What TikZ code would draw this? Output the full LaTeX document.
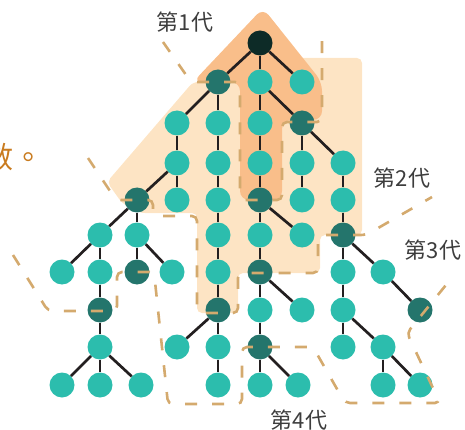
\documentclass[tikz,border=0pt]{standalone}
\usepackage{fontspec}
\newfontfamily\cjk{Noto Sans CJK TC}
\definecolor{peach}{HTML}{FDE4C4}
\definecolor{orangebg}{HTML}{F9BE8A}
\definecolor{dashc}{HTML}{D4AA6E}
\definecolor{tealn}{HTML}{2CBDAD}
\definecolor{tealdk}{HTML}{24756C}
\definecolor{rootc}{HTML}{0D2B27}
\definecolor{edgec}{HTML}{231F20}
\definecolor{txtc}{HTML}{3D3D3D}
\definecolor{lefttxt}{HTML}{C97B1F}
\begin{document}
\begin{tikzpicture}[x=1pt,y=-1pt,
  nd/.style={circle,fill=tealn,minimum size=25pt,inner sep=0pt},
  dk/.style={nd,fill=tealdk},
  rt/.style={nd,fill=rootc},
  edge/.style={draw=edgec,line width=2.7pt},
  dsh/.style={draw=dashc,line width=2.6pt,dash pattern=on 12pt off 15pt,rounded corners=5pt},
  lbl/.style={text=txtc,font=\cjk\fontsize{22}{22}\selectfont,inner sep=0pt}]
\useasboundingbox (0,0) rectangle (465,430);
% backgrounds
\fill[peach,rounded corners=5pt] (107,182) -- (193,82) -- (250,82) -- (250,58) -- (362,58) -- (362,235) -- (320,235) -- (320,273) -- (238,273) -- (238,313) -- (197,313) -- (197,213) -- (140,213) -- (122,203) -- cycle;
\fill[orangebg,rounded corners=9pt] (193,82) -- (263,8) -- (322,82) -- (322,120) -- (282,120) -- (282,200) -- (240,200) -- (240,82) -- cycle;
% nodes
\node[rt] (R) at (260,43) {};
\node[dk] (a1) at (218,82) {};
\node[nd] (a2) at (260,82) {};
\node[nd] (a3) at (302,82) {};
\node[nd] (b1) at (177,123) {};
\node[nd] (b2) at (218,123) {};
\node[nd] (b3) at (260,123) {};
\node[dk] (b4) at (302,123) {};
\node[nd] (c1) at (177,163) {};
\node[nd] (c2) at (218,163) {};
\node[nd] (c3) at (260,163) {};
\node[nd] (c4) at (302,163) {};
\node[nd] (c5) at (343,163) {};
\node[dk] (d1) at (137,200) {};
\node[nd] (d2) at (177,200) {};
\node[nd] (d3) at (218,200) {};
\node[dk] (d4) at (260,200) {};
\node[nd] (d5) at (302,200) {};
\node[nd] (d6) at (343,200) {};
\node[nd] (e1) at (100,235) {};
\node[nd] (e2) at (137,235) {};
\node[nd] (e3) at (218,235) {};
\node[nd] (e4) at (260,235) {};
\node[nd] (e5) at (302,235) {};
\node[dk] (e6) at (343,235) {};
\node[nd] (f1) at (62,272) {};
\node[nd] (f2) at (100,272) {};
\node[dk] (f3) at (137,272) {};
\node[nd] (f4) at (172,272) {};
\node[nd] (f5) at (218,272) {};
\node[dk] (f6) at (260,272) {};
\node[nd] (f7) at (343,272) {};
\node[nd] (f8) at (383,272) {};
\node[dk] (g1) at (100,310) {};
\node[dk] (g2) at (218,310) {};
\node[nd] (g3) at (260,310) {};
\node[nd] (g4) at (302,310) {};
\node[nd] (g5) at (343,310) {};
\node[dk] (g6) at (420,310) {};
\node[nd] (h1) at (100,347) {};
\node[nd] (h2) at (177,347) {};
\node[nd] (h3) at (218,347) {};
\node[dk] (h4) at (260,347) {};
\node[nd] (h5) at (343,347) {};
\node[nd] (h6) at (383,347) {};
\node[nd] (i1) at (62,385) {};
\node[nd] (i2) at (100,385) {};
\node[nd] (i3) at (141,385) {};
\node[nd] (i4) at (218,385) {};
\node[nd] (i5) at (260,385) {};
\node[nd] (i6) at (298,385) {};
\node[nd] (i7) at (383,385) {};
\node[nd] (i8) at (420,385) {};
% edges
\draw[edge] (R) -- (a1); \draw[edge] (R) -- (a2); \draw[edge] (R) -- (a3);
\draw[edge] (a1) -- (b1); \draw[edge] (a1) -- (b2);
\draw[edge] (a2) -- (b3); \draw[edge] (a2) -- (b4);
\draw[edge] (b1) -- (c1); \draw[edge] (b2) -- (c2); \draw[edge] (b3) -- (c3);
\draw[edge] (b4) -- (c4); \draw[edge] (b4) -- (c5);
\draw[edge] (c1) -- (d1); \draw[edge] (c1) -- (d2); \draw[edge] (c2) -- (d3);
\draw[edge] (c3) -- (d4); \draw[edge] (c4) -- (d5); \draw[edge] (c5) -- (d6);
\draw[edge] (d1) -- (e1); \draw[edge] (d1) -- (e2); \draw[edge] (d3) -- (e3);
\draw[edge] (d4) -- (e4); \draw[edge] (d4) -- (e5); \draw[edge] (d6) -- (e6);
\draw[edge] (e1) -- (f1); \draw[edge] (e1) -- (f2); \draw[edge] (e2) -- (f3);
\draw[edge] (e2) -- (f4); \draw[edge] (e3) -- (f5); \draw[edge] (e4) -- (f6);
\draw[edge] (e6) -- (f7); \draw[edge] (e6) -- (f8);
\draw[edge] (f2) -- (g1); \draw[edge] (f5) -- (g2); \draw[edge] (f6) -- (g3);
\draw[edge] (f6) -- (g4); \draw[edge] (f7) -- (g5); \draw[edge] (f8) -- (g6);
\draw[edge] (g1) -- (h1); \draw[edge] (g2) -- (h2); \draw[edge] (g2) -- (h3);
\draw[edge] (g3) -- (h4); \draw[edge] (g5) -- (h5); \draw[edge] (g5) -- (h6);
\draw[edge] (h1) -- (i1); \draw[edge] (h1) -- (i2); \draw[edge] (h1) -- (i3);
\draw[edge] (h3) -- (i4); \draw[edge] (h4) -- (i5); \draw[edge] (h4) -- (i6);
\draw[edge] (h6) -- (i7); \draw[edge] (h6) -- (i8);
% dashed generation boundaries
\coordinate (p1s) at (163,42); \coordinate (p1e) at (322,32);
\draw[dsh] (p1s) -- (191,82) -- (240,82) -- (240,200) -- (282,200) -- (282,122) -- (322,122) -- (p1e);
\coordinate (p2s) at (88,158); \coordinate (p2e) at (432,197);
\draw[dsh] (p2s) -- (116,200) -- (153,200) -- (153,216) -- (197,216) -- (197,313) -- (238,313) -- (238,273) -- (318,273) -- (318,235) -- (366,235) -- (p2e);
\coordinate (p3s) at (13,255); \coordinate (p3e) at (450,280);
\draw[dsh] (p3s) -- (48,311) -- (117,311) -- (117,272) -- (154,272) -- (168,404) -- (242,404) -- (242,347) -- (313,347) -- (345,403) -- (440,403) -- (407,333) -- (p3e);
% labels
\node[lbl] (l1) at (185,22) {第1代};
\node[lbl] (l2) at (402,178) {第2代};
\node[lbl] (l3) at (433,250) {第3代};
\node[lbl] (l4) at (299,420) {第4代};
\node[anchor=base west,inner sep=0pt,text=lefttxt,font=\cjk\fontsize{30}{30}\selectfont] (lt) at (-17,169) {數。};
\end{tikzpicture}
\end{document}
